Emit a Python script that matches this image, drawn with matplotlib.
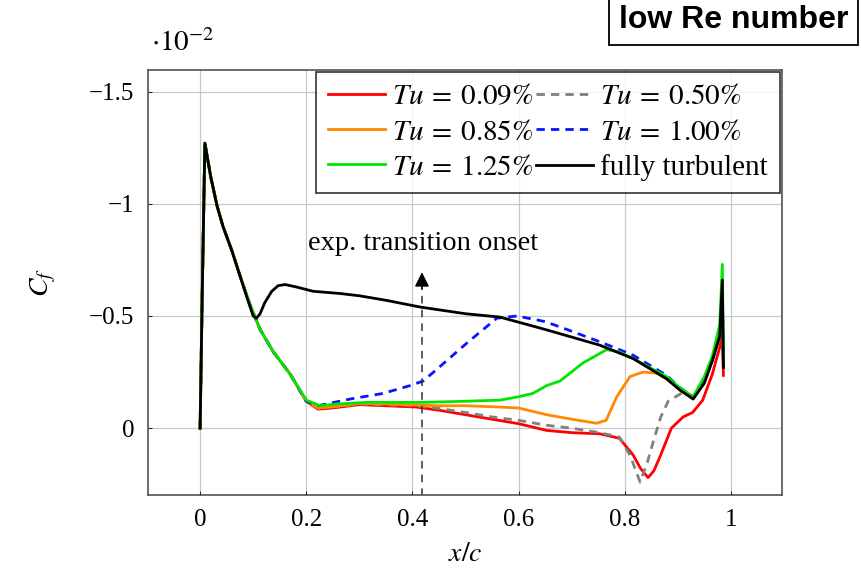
"""Skin-friction coefficient along the chord for several inflow turbulence levels."""

import matplotlib

matplotlib.use("Agg")
import matplotlib.pyplot as plt

plt.rcParams["font.family"] = ["Liberation Serif", "DejaVu Serif"]
plt.rcParams["mathtext.fontset"] = "stix"

# Skin friction (units of 1e-2), read along x/c for each case.
x_tu009 = [0, 0.004, 0.009, 0.02, 0.032, 0.043, 0.06, 0.075, 0.094, 0.113, 0.138, 0.17,
           0.2, 0.222, 0.25, 0.3, 0.35, 0.408, 0.45, 0.5, 0.55, 0.6, 0.653, 0.7, 0.753,
           0.79, 0.816, 0.83, 0.844, 0.855, 0.866, 0.888, 0.91, 0.928, 0.947, 0.965,
           0.979, 0.984, 0.986]
cf_tu009 = [0, -0.6, -1.27, -1.12, -0.99, -0.9, -0.79, -0.68, -0.55, -0.44, -0.34, -0.24,
            -0.12, -0.085, -0.09, -0.105, -0.1, -0.094, -0.08, -0.06, -0.04, -0.02, 0.01,
            0.02, 0.025, 0.045, 0.12, 0.18, 0.22, 0.19, 0.13, 0.0, -0.05, -0.07, -0.125,
            -0.24, -0.36, -0.42, -0.235]

x_tu050 = [0, 0.004, 0.009, 0.02, 0.032, 0.043, 0.06, 0.075, 0.094, 0.113, 0.138, 0.17,
           0.2, 0.222, 0.25, 0.3, 0.35, 0.408, 0.45, 0.5, 0.55, 0.6, 0.653, 0.7, 0.753,
           0.79, 0.81, 0.829, 0.843, 0.855, 0.868, 0.882, 0.91, 0.929, 0.95, 0.965,
           0.979, 0.984, 0.986]
cf_tu050 = [0, -0.6, -1.27, -1.12, -0.99, -0.9, -0.79, -0.68, -0.55, -0.44, -0.34, -0.24,
            -0.12, -0.09, -0.095, -0.108, -0.104, -0.1, -0.088, -0.07, -0.05, -0.035,
            -0.013, 0.0, 0.02, 0.04, 0.12, 0.24, 0.15, 0.05, -0.05, -0.12, -0.16, -0.14,
            -0.21, -0.3, -0.41, -0.6, -0.27]

x_tu085 = [0, 0.004, 0.009, 0.02, 0.032, 0.043, 0.06, 0.075, 0.094, 0.113, 0.138, 0.17,
           0.2, 0.222, 0.25, 0.3, 0.35, 0.408, 0.45, 0.5, 0.565, 0.6, 0.653, 0.7, 0.747,
           0.765, 0.785, 0.81, 0.834, 0.86, 0.879, 0.904, 0.929, 0.95, 0.965, 0.979,
           0.984, 0.986]
cf_tu085 = [0, -0.6, -1.27, -1.12, -0.99, -0.9, -0.79, -0.68, -0.55, -0.44, -0.34, -0.24,
            -0.12, -0.09, -0.095, -0.11, -0.108, -0.103, -0.1, -0.1, -0.094, -0.09, -0.06,
            -0.04, -0.022, -0.035, -0.14, -0.23, -0.25, -0.245, -0.22, -0.17, -0.13, -0.21,
            -0.3, -0.41, -0.6, -0.27]

x_tu100 = [0, 0.004, 0.009, 0.02, 0.032, 0.043, 0.06, 0.075, 0.094, 0.113, 0.138, 0.17,
           0.2, 0.222, 0.283, 0.345, 0.396, 0.42, 0.44, 0.503, 0.559, 0.597, 0.65, 0.691,
           0.753, 0.785, 0.816, 0.879, 0.904, 0.929, 0.95, 0.965, 0.979, 0.984, 0.986]
cf_tu100 = [0, -0.6, -1.27, -1.12, -0.99, -0.9, -0.79, -0.68, -0.55, -0.44, -0.34, -0.24,
            -0.12, -0.1, -0.13, -0.155, -0.19, -0.21, -0.25, -0.38, -0.49, -0.5, -0.475,
            -0.44, -0.385, -0.355, -0.325, -0.235, -0.18, -0.14, -0.21, -0.3, -0.42, -0.62,
            -0.27]

x_tu125 = [0, 0.004, 0.009, 0.02, 0.032, 0.043, 0.06, 0.075, 0.094, 0.113, 0.138, 0.17,
           0.2, 0.226, 0.26, 0.314, 0.37, 0.42, 0.5, 0.565, 0.6, 0.627, 0.653, 0.678,
           0.721, 0.766, 0.79, 0.816, 0.879, 0.904, 0.929, 0.95, 0.965, 0.979, 0.984,
           0.986]
cf_tu125 = [0, -0.6, -1.27, -1.12, -0.99, -0.9, -0.79, -0.68, -0.55, -0.44, -0.34, -0.24,
            -0.125, -0.1, -0.108, -0.115, -0.115, -0.115, -0.12, -0.125, -0.14, -0.155,
            -0.19, -0.21, -0.29, -0.35, -0.34, -0.31, -0.23, -0.18, -0.14, -0.23, -0.32,
            -0.46, -0.73, -0.3]

x_turb = [0, 0.004, 0.009, 0.02, 0.032, 0.043, 0.06, 0.075, 0.09, 0.1, 0.106, 0.113,
          0.122, 0.135, 0.147, 0.16, 0.18, 0.213, 0.264, 0.3, 0.35, 0.414, 0.5, 0.565,
          0.65, 0.753, 0.816, 0.879, 0.904, 0.929, 0.95, 0.965, 0.979, 0.984, 0.986]
cf_turb = [0, -0.6, -1.27, -1.12, -0.99, -0.9, -0.79, -0.68, -0.57, -0.5, -0.49, -0.51,
           -0.56, -0.61, -0.635, -0.64, -0.63, -0.61, -0.6, -0.59, -0.57, -0.54, -0.51,
           -0.495, -0.44, -0.37, -0.31, -0.22, -0.17, -0.13, -0.2, -0.3, -0.41, -0.66,
           -0.27]

labels = [r"$Tu\:=\:0.09\%$", r"$Tu\:=\:0.50\%$", r"$Tu\:=\:0.85\%$",
          r"$Tu\:=\:1.00\%$", r"$Tu\:=\:1.25\%$", "fully turbulent"]

# experimental transition onset location (x/c)
x_onset = 0.418
onset_label = "exp. transition onset"

xticks = [0, 0.2, 0.4, 0.6, 0.8, 1.0]
xtick_labels = ["0", "0.2", "0.4", "0.6", "0.8", "1"]
yticks = [-1.5, -1.0, -0.5, 0.0]
ytick_labels = ["\u22121.5", "\u22121", "\u22120.5", "0"]

series = [
    (x_tu009, cf_tu009, dict(color="#ff0000", ls="-")),
    (x_tu050, cf_tu050, dict(color="#808080", ls=(0, (3.0, 2.2)))),
    (x_tu085, cf_tu085, dict(color="#ff8a00", ls="-")),
    (x_tu100, cf_tu100, dict(color="#0a14ff", ls=(0, (3.0, 2.2)))),
    (x_tu125, cf_tu125, dict(color="#00e600", ls="-")),
    (x_turb, cf_turb, dict(color="#000000", ls="-")),
]

fig = plt.figure(figsize=(8.61, 5.71), dpi=100)
ax = fig.add_axes([0.172, 0.133, 0.736, 0.744])

handles = []
for (xs, ys, style), lab in zip(series, labels):
    (h,) = ax.plot(xs, ys, lw=2.0, label=lab, solid_joinstyle="round", **style)
    handles.append(h)

# dashed marker line with arrow head for the measured onset
ax.plot([x_onset, x_onset], [0.3, -0.63], color="#333333", lw=1.1, ls=(0, (5, 4)))
ax.annotate("", xy=(x_onset, -0.695), xytext=(x_onset, -0.62),
            arrowprops=dict(arrowstyle="-|>", color="black", lw=1.0,
                            mutation_scale=22, shrinkA=0, shrinkB=0))
ax.text(x_onset + 0.002, -0.825, onset_label, ha="center", va="center", fontsize=20.5)

ax.set_xlim(-0.098, 1.096)
ax.set_ylim(0.298, -1.595)
ax.set_xticks(xticks)
ax.set_xticklabels(xtick_labels)
ax.set_yticks(yticks)
ax.set_yticklabels(ytick_labels)
ax.tick_params(direction="in", length=3, width=0.6, labelsize=18, pad=10)
ax.grid(True, color="#c8c8c8", lw=0.9)
ax.set_axisbelow(True)
for sp in ax.spines.values():
    sp.set_color("#444444")
    sp.set_linewidth(1.1)

ax.set_xlabel(r"$x/c$", fontsize=20, labelpad=8)
ax.set_ylabel(r"$C_f$", fontsize=20, labelpad=22)
ax.text(0.005, 1.03, r"$\cdot 10^{-2}$", transform=ax.transAxes, fontsize=21,
        ha="left", va="bottom")

# column-major order so rows pair 0.09/0.50, 0.85/1.00, 1.25/turbulent
order = [0, 2, 4, 1, 3, 5]
leg = ax.legend([handles[i] for i in order], [labels[i] for i in order],
                loc="upper right", ncol=2, fontsize=21, frameon=True, fancybox=False,
                handlelength=1.95, handletextpad=0.25, columnspacing=0.1,
                labelspacing=0.3, borderpad=0.42, borderaxespad=0.05)
leg.get_frame().set_edgecolor("black")
leg.get_frame().set_linewidth(1.2)

fig.text(0.985, 0.965, "low Re number", ha="right", va="center", fontsize=23,
         fontweight="bold", family=["Liberation Sans"],
         bbox=dict(boxstyle="square,pad=0.3", fc="white", ec="black", lw=1.3))

fig.savefig("out.png", dpi=100)
